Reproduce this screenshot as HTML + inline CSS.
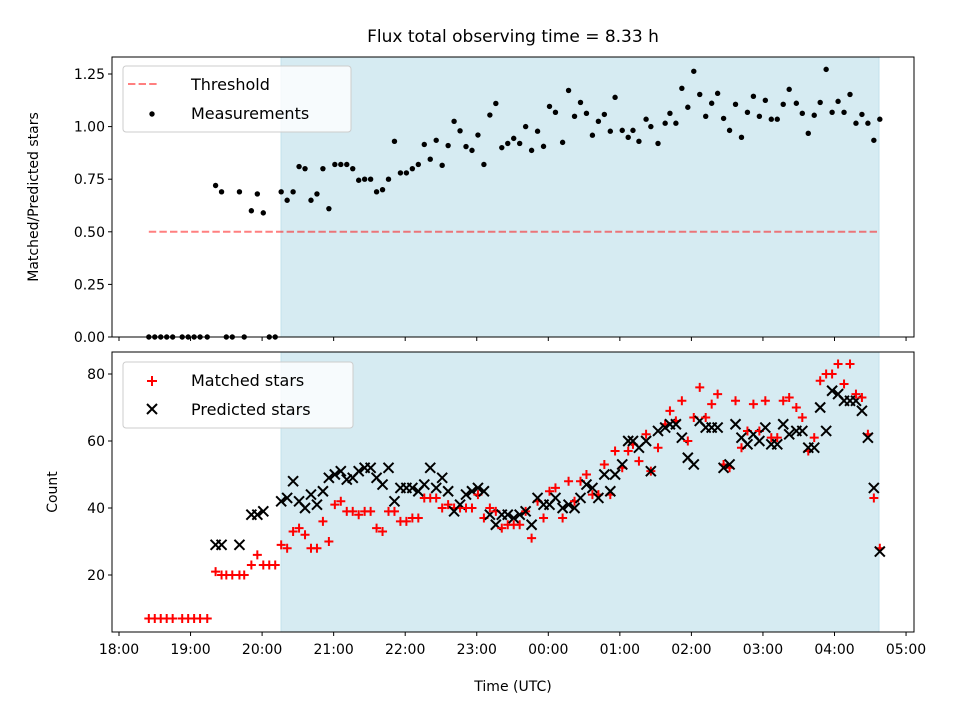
<!DOCTYPE html>
<html><head><meta charset="utf-8"><style>
body{margin:0;background:#fff;}
svg{display:block;font-family:"DejaVu Sans","Liberation Sans",sans-serif;}
</style></head><body>
<svg id="fig" width="960" height="720" viewBox="0 0 960 720" xmlns="http://www.w3.org/2000/svg">
<rect width="960" height="720" fill="#fff"/>
<text x="513" y="42" font-size="17" text-anchor="middle">Flux total observing time = 8.33 h</text>
<text transform="translate(38,197) rotate(-90)" font-size="14" text-anchor="middle">Matched/Predicted stars</text>
<text transform="translate(57,492) rotate(-90)" font-size="14" text-anchor="middle">Count</text>
<text x="513" y="691" font-size="14" text-anchor="middle">Time (UTC)</text>
<g id="topPanel"></g>
<g id="botPanel"></g>
</svg>
<script>
// minutes after 18:00 UTC
const times=[25,30,35,40,45,53,58,63,68,74,81,86,90,95,101,105,111,116,121,126,131,136,141,146,151,156,161,166,171,176,181,186,191,196,201,206,211,216,221,226,231,236,241,246,251,256,261,266,271,276,281,286,291,296,301,306,311,316,321,326,331,336,341,346,351,356,361,366,372,377,382,387,392,397,402,407,412,416,422,427,431,436,442,446,452,458,462,467,472,477,482,487,492,497,502,507,512,517,522,527,532,537,542,547,552,557,562,568,573,578,583,588,593,598,603,608,613,618,623,628,633,638];
const ratio=[0,0,0,0,0,0,0,0,0,0,.72,.69,0,0,.69,0,.60,.68,.59,0,0,.69,.65,.69,.81,.80,.65,.68,.80,.61,.82,.82,.82,.80,.745,.75,.75,.69,.70,.75,.93,.78,.78,.80,.82,.915,.845,.935,.816,.91,1.025,.98,.905,.887,.96,.82,1.055,1.11,.90,.92,.944,.92,1.0,.887,.978,.906,1.096,1.068,.925,1.172,1.049,1.115,1.063,.959,1.025,1.058,.978,1.139,.982,.949,.982,.93,1.035,1.0,.92,1.016,1.063,1.016,1.182,1.092,1.263,1.153,1.049,1.111,1.158,1.039,.982,1.106,.949,1.068,1.144,1.049,1.125,1.035,1.035,1.106,1.177,1.111,1.063,.968,1.054,1.115,1.272,1.068,1.12,1.068,1.153,1.016,1.058,1.016,.935,1.035];
const matched=[7,7,7,7,7,7,7,7,7,7,21,20,20,20,20,20,23,26,23,23,23,29,28,33,34,32,28,28,36,30,41,42,39,39,38,39,39,34,33,39,39,36,36,37,37,43,43,43,40,41,40,40,40,40,44,37,40,39,34,35,35,35,39,31,42,37,45,46,37,48,42,48,50,44,44,53,44,57,52,57,59,54,62,51,58,65,69,66,72,60,67,76,67,71,74,53,52,72,58,63,71,63,72,61,61,72,73,70,67,57,61,78,80,80,83,77,83,74,73,62,43,28];
const predicted=[null,null,null,null,null,null,null,null,null,null,29,29,null,null,29,null,38,38,39,null,null,42,43,48,42,40,44,41,45,49,50,51,48.5,49,51,52,52,49,47,52,42,46,46,46,45,47,52,46,49,45,39,41,44,45,46,45,38,35,38,38,37,38,39,35,43,41,41,43,40,41,40,43,47,46,43,50,45,50,53,60,60,58,60,51,63,64,65,65,61,55,53,66,64,64,64,52,53,65,61,59,62,60,64,59,59,65,62,63,63,58,58,70,63,75,74,72,72,72,69,61,46,27];
const ratioTicks=[0,0.25,0.5,0.75,1.0,1.25];
const countTicks=[20,40,60,80];
const hourLabels=["18:00","19:00","20:00","21:00","22:00","23:00","00:00","01:00","02:00","03:00","04:00","05:00"];
const threshold=0.5;
const shadeStart=135.8, shadeEnd=637.4, thrStart=25;

const NS="http://www.w3.org/2000/svg";
const L=112,R=914;
const X=t=>119+t*71.55/60;
const Yt=v=>337-v*210.4;
const Yb=v=>642-v*3.35;
function mk(p,tag,a){const e=document.createElementNS(NS,tag);for(const k in a)e.setAttribute(k,a[k]);p.appendChild(e);return e;}
const topG=document.getElementById('topPanel'), botG=document.getElementById('botPanel');

function frame(g,y0,y1,nm){
  const s=mk(g,'rect',{x:X(shadeStart),y:y0,width:X(shadeEnd)-X(shadeStart),height:y1-y0,fill:'#add8e6','fill-opacity':.5,stroke:'#add8e6','stroke-opacity':.6});
  
  
}
function axes(g,y0,y1,nm,labels){
  const b=mk(g,'rect',{x:L,y:y0,width:R-L,height:y1-y0,fill:'none',stroke:'#000','stroke-width':1});
  
  
  hourLabels.forEach((h,i)=>{
    const x=X(i*60);
    const t=mk(g,'line',{x1:x,x2:x,y1:y1,y2:y1+4,stroke:'#000'});
    
    
    if(labels){const tx=mk(g,'text',{x:x,y:y1+22,'font-size':14,'text-anchor':'middle'});tx.textContent=h;
      
      }
  });
}
// top panel
frame(topG,57,337,'top');
const th=mk(topG,'line',{x1:X(thrStart),x2:X(shadeEnd),y1:Yt(threshold),y2:Yt(threshold),stroke:'#f00','stroke-opacity':.5,'stroke-width':2,'stroke-dasharray':'7.4,3.2'});


times.forEach((t,i)=>{const c=mk(topG,'circle',{cx:X(t),cy:Yt(ratio[i]),r:2.7,fill:'#000'});
  
  });
axes(topG,57,337,'top',false);
ratioTicks.forEach(v=>{const y=Yt(v);mk(topG,'line',{x1:L-4,x2:L,y1:y,y2:y,stroke:'#000'});
  const tx=mk(topG,'text',{x:L-7,y:y+5,'font-size':14,'text-anchor':'end'});tx.textContent=v.toFixed(2);
  
  });
// bottom panel
frame(botG,352,632,'bottom');
times.forEach((t,i)=>{
  const x=X(t),y=Yb(matched[i]);
  const p=mk(botG,'path',{d:`M${x-4.5},${y}H${x+4.5}M${x},${y-4.5}V${y+4.5}`,stroke:'#f00','stroke-width':2});
  
  
  if(predicted[i]!=null){const yp=Yb(predicted[i]);
    const q=mk(botG,'path',{d:`M${x-5},${yp-5}L${x+5},${yp+5}M${x-5},${yp+5}L${x+5},${yp-5}`,stroke:'#000','stroke-width':2});
    
    }
});
axes(botG,352,632,'bottom',true);
countTicks.forEach(v=>{const y=Yb(v);mk(botG,'line',{x1:L-4,x2:L,y1:y,y2:y,stroke:'#000'});
  const tx=mk(botG,'text',{x:L-7,y:y+5,'font-size':14,'text-anchor':'end'});tx.textContent=v;
  
  });
// legends
function legend(g,y0,w,items){
  const lg=mk(g,'g',{});
  
  
  mk(lg,'rect',{x:123,y:y0,width:w,height:66,rx:3,fill:'#fff','fill-opacity':.8,stroke:'#ccc'});
  items.forEach((it,i)=>{const cy=y0+18+i*29;it.draw(lg,152,cy);
    const tx=mk(lg,'text',{x:191,y:cy+6,'font-size':16});tx.textContent=it.label;
    
    });
}
legend(topG,66,228,[
 {label:'Threshold',draw:(g,x,y)=>mk(g,'line',{x1:x-24,x2:x+6,y1:y,y2:y,stroke:'#f00','stroke-opacity':.5,'stroke-width':2,'stroke-dasharray':'7.4,3.2'})},
 {label:'Measurements',draw:(g,x,y)=>mk(g,'circle',{cx:x,cy:y+1,r:2.7,fill:'#000'})}]);
legend(botG,362,230,[
 {label:'Matched stars',draw:(g,x,y)=>mk(g,'path',{d:`M${x-5},${y+1}H${x+5}M${x},${y-4}V${y+6}`,stroke:'#f00','stroke-width':2})},
 {label:'Predicted stars',draw:(g,x,y)=>mk(g,'path',{d:`M${x-5},${y-5}L${x+5},${y+5}M${x-5},${y+5}L${x+5},${y-5}`,stroke:'#000','stroke-width':2})}]);
</script>
</body></html>
